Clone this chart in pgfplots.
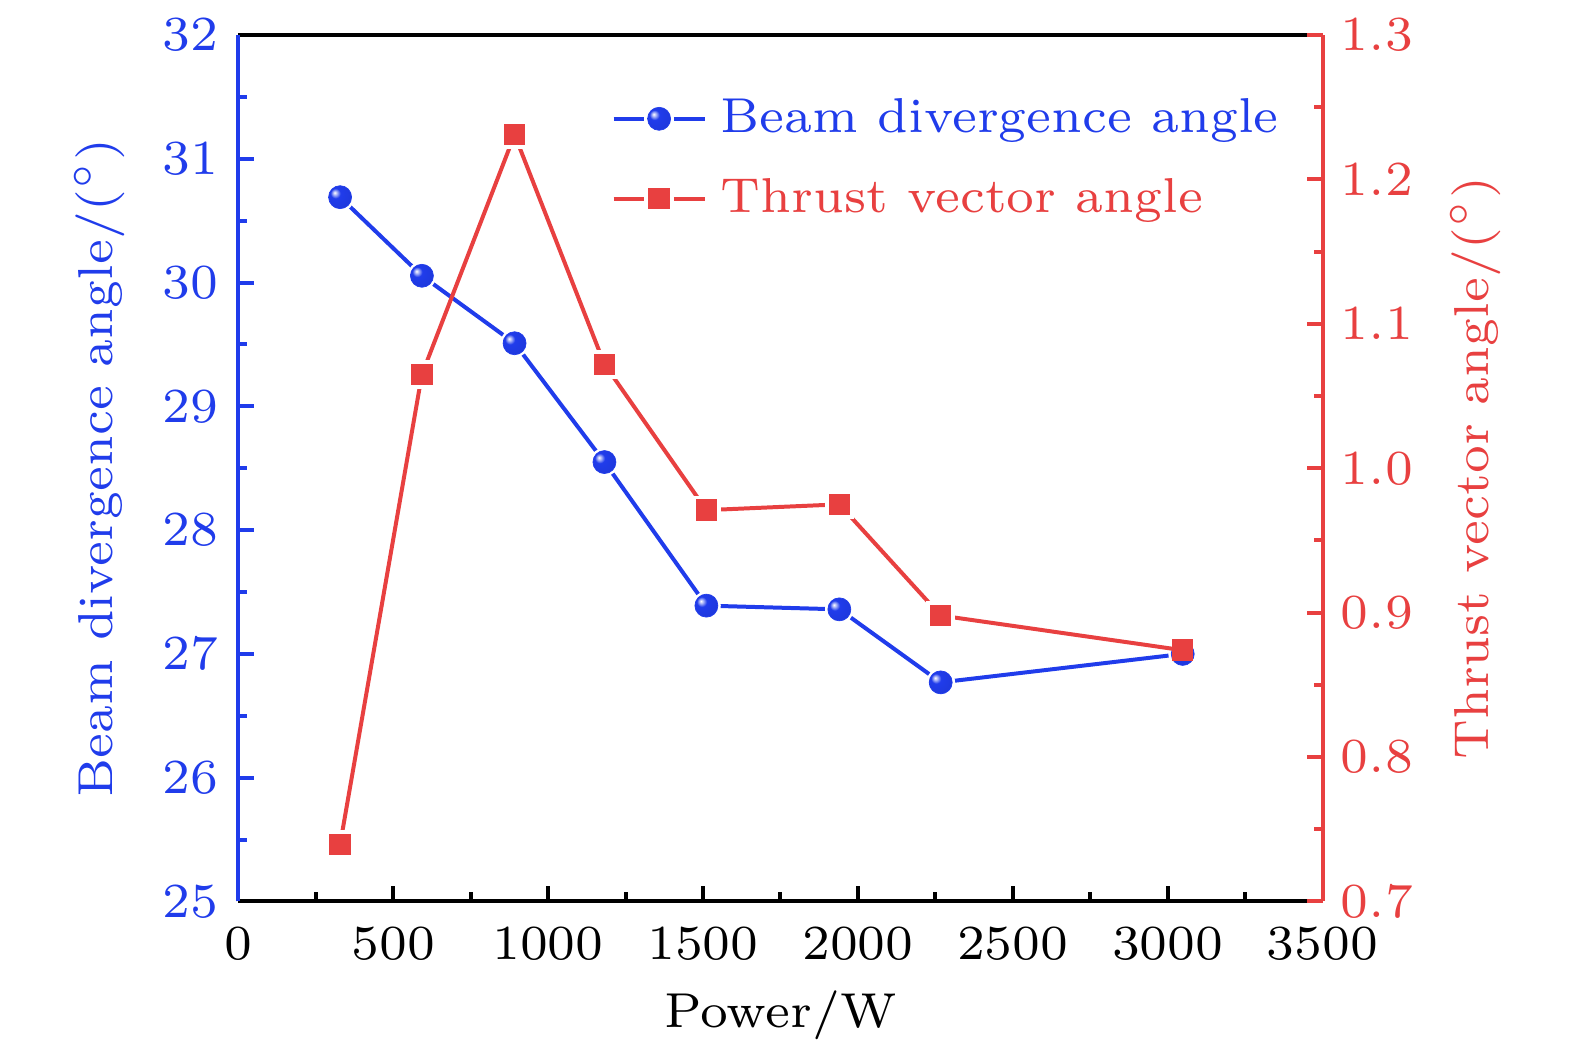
\documentclass[border=0pt]{standalone}
\usepackage{graphicx}
\usepackage{pgfplots}
\pgfplotsset{compat=1.18}
\definecolor{blueC}{RGB}{32,60,235}
\definecolor{redC}{RGB}{232,64,64}
\makeatletter
\pgfdeclareradialshading[tikz@ball]{ball}{\pgfqpoint{-12bp}{10bp}}{%
  color(0bp)=(white);
  color(4bp)=(tikz@ball!35!white);
  color(11bp)=(tikz@ball);
  color(38bp)=(tikz@ball!92!black);
  color(50bp)=(tikz@ball!78!black);
  color(70bp)=(tikz@ball!70!black)}
\makeatother
\pgfplotstableread{
x y
329 30.690
593 30.055
892 29.510
1182 28.550
1511 27.390
1940 27.360
2267 26.770
3048 27.000
}\beamdata
\pgfplotstableread{
x y
329 0.7395
593 1.065
892 1.231
1182 1.072
1511 0.971
1940 0.975
2267 0.898
3048 0.874
}\thrustdata
\begin{document}
\scalebox{1.428571}{%
\fontsize{7}{8.4}\selectfont
\begin{tikzpicture}
\pgfplotsset{
  common/.style={
    scale only axis,
    width=154.86pt, height=123.7pt,
    xmin=0, xmax=3500,
    at={(0,0)}, anchor=south west,
    tick align=inside,
    major tick length=2.24pt, minor tick length=1.29pt,
    axis line style={line width=0.57pt},
    clip=false,
    /pgf/number format/1000 sep={},
  }
}
\begin{axis}[common,
  axis x line*=box, axis y line*=left,
  xtick pos=left,
  ymin=25, ymax=32, ytick={25,26,27,28,29,30,31,32},
  xtick={0,500,1000,1500,2000,2500,3000,3500},
  minor x tick num=1, minor y tick num=1,
  x axis line style={black,-,line width=0.57pt},
  y axis line style={blueC,-,line width=0.57pt},
  ytick style={blueC,line width=0.57pt},
  xtick style={black,line width=0.57pt},
  yticklabel style={blueC, xshift=-0.35pt},
  xticklabel style={yshift=-1.2pt},
  every axis y label/.style={at={(axis description cs:-0.1156,0.5)}, rotate=90, anchor=base, blueC},
  every axis x label/.style={at={(axis description cs:0.5,0)}, anchor=base, yshift=-18pt, black},
  ylabel={Beam divergence angle/($^\circ$)},
  xlabel={Power/W},
]
\addplot[blueC, line width=0.57pt] table {\beamdata};
\addplot[white, only marks, mark=*, mark size=1.95pt, mark options={fill=white, draw=white, line width=0.2pt}] table {\beamdata};
\addplot[blueC, only marks, mark=ball, mark size=1.64pt, mark options={ball color=blueC, draw=blueC, line width=0.1pt}] table {\beamdata};
\end{axis}
\begin{axis}[common,
  axis y line*=right, axis x line=none,
  xtick=\empty,
  ymin=0.7, ymax=1.3, ytick={0.7,0.8,0.9,1.0,1.1,1.2,1.3},
  minor y tick num=1,
  yticklabel style={redC, /pgf/number format/.cd, fixed, fixed zerofill, precision=1},
  y axis line style={redC,-,line width=0.57pt},
  ytick style={redC,line width=0.57pt},
  every axis y label/.style={at={(axis description cs:1.153,0.5)}, rotate=90, anchor=base, redC},
  ylabel={Thrust vector angle/($^\circ$)},
  legend style={draw=none, fill=none, inner sep=0pt, at={(axis description cs:0.343,0.945)}, anchor=north west, row sep=1.5pt, nodes={inner sep=2pt, text depth=0.15em}},
  legend cell align=left,
  legend image code/.code={%
    \draw[#1, mark=none] (0pt,0pt) -- (4.4pt,0pt);
    \draw[#1, mark=none] (8.6pt,0pt) -- (13pt,0pt);
    \draw[#1, only marks] plot coordinates {(6.5pt,0pt)};},
]
\addlegendimage{blueC, line width=0.57pt, mark=ball, mark size=1.64pt, mark options={ball color=blueC, draw=blueC, line width=0.1pt}}
\addlegendentry[text=blueC]{Beam divergence angle}
\addplot[redC, line width=0.57pt, mark=square*, mark size=1.43pt, mark options={fill=redC, draw=redC, line width=0.2pt}] table {\thrustdata};
\addlegendentry[text=redC]{Thrust vector angle}
\addplot[forget plot, white, only marks, mark=square*, mark size=1.95pt, mark options={fill=white, draw=white, line width=0.2pt}, skip coords between index={7}{8}] table {\thrustdata};
\addplot[forget plot, redC, only marks, mark=square*, mark size=1.43pt, mark options={fill=redC, draw=redC, line width=0.2pt}] table {\thrustdata};
\end{axis}
\pgfresetboundingbox
\path (-34.0pt,-21.71pt) rectangle (190.86pt,128.7pt);
\end{tikzpicture}}
\end{document}
